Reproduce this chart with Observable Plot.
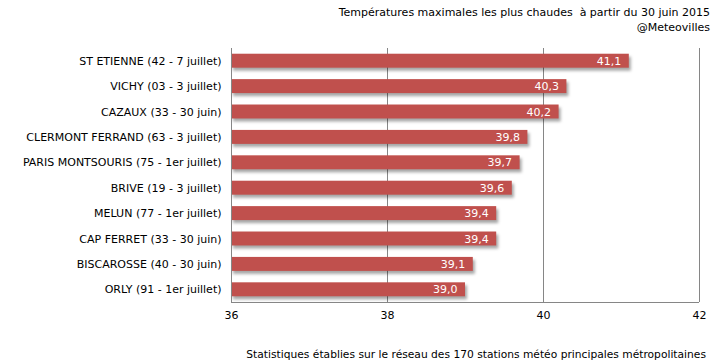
<!DOCTYPE html>
<html><head><meta charset="utf-8">
<script src="https://cdn.jsdelivr.net/npm/d3@7"></script>
<script src="https://cdn.jsdelivr.net/npm/@observablehq/plot@0.6"></script>
<style>
body{margin:0;background:#fff;font-family:"DejaVu Sans",sans-serif;overflow:hidden;}
</style></head><body>
<div id="wrap"></div>
<script>
const stations = ["ST ETIENNE (42 - 7 juillet)","VICHY (03 - 3 juillet)","CAZAUX (33 - 30 juin)","CLERMONT FERRAND (63 - 3 juillet)","PARIS MONTSOURIS (75 - 1er juillet)","BRIVE (19 - 3 juillet)","MELUN (77 - 1er juillet)","CAP FERRET (33 - 30 juin)","BISCAROSSE (40 - 30 juin)","ORLY (91 - 1er juillet)"];
const temps = [41.1,40.3,40.2,39.8,39.7,39.6,39.4,39.4,39.1,39.0];
const xTicks = [36,38,40,42];
const titleLines = ["Températures maximales les plus chaudes\u00a0 à partir du 30 juin 2015","@Meteovilles"];
const caption = "Statistiques établies sur le réseau des 170 stations météo principales métropolitaines";
const data = stations.map((s,i)=>({station:s,temp:temps[i]}));
const fmt = v => v.toFixed(1).replace(".", ",");
const chart = Plot.plot({
  width:714,height:361,
  marginLeft:231,marginRight:15,marginTop:48,marginBottom:59,
  style:{fontFamily:"DejaVu Sans, sans-serif",fontSize:"11px",color:"#000",background:"#fff"},
  x:{domain:[36,42],label:null},
  y:{domain:stations,label:null,paddingInner:0.45,paddingOuter:0.225,round:false},
  marks:[
    Plot.gridX(xTicks.slice(1),{stroke:"#868686",strokeOpacity:1}),
    Plot.barX(data,{y:"station",x1:36,x2:"temp",fill:"#c0504d",className:"bars"}),
    Plot.text(data,{y:"station",x:"temp",text:d=>fmt(d.temp),textAnchor:"end",dx:-8,fill:"#fff",fontSize:11}),
    Plot.ruleX([36],{stroke:"#868686"}),
    Plot.axisX(xTicks,{tickSize:0,tickPadding:9,label:null,fontSize:11,tickFormat:d=>String(d)}),
    Plot.axisY({tickSize:0,tickPadding:10,label:null,fontSize:11})
  ]
});
document.getElementById("wrap").append(chart);
const svg = d3.select(chart);
const xs = chart.scale("x");
svg.append("line").attr("x1",xs.apply(36)).attr("x2",xs.apply(42)).attr("y1",302.5).attr("y2",302.5).attr("stroke","#868686");
svg.selectAll(".bars rect").style("filter","drop-shadow(2px 3px 1.5px rgba(0,0,0,0.35))");
const tg = svg.append("g").attr("font-size",11).attr("text-anchor","end").attr("fill","#000");
titleLines.forEach((t,i)=>tg.append("text").attr("x",710).attr("y",16+i*15).text(t));
svg.append("text").attr("x",706).attr("y",358).attr("font-size",10.7).attr("text-anchor","end").attr("fill","#000").text(caption);
</script>
</body></html>
